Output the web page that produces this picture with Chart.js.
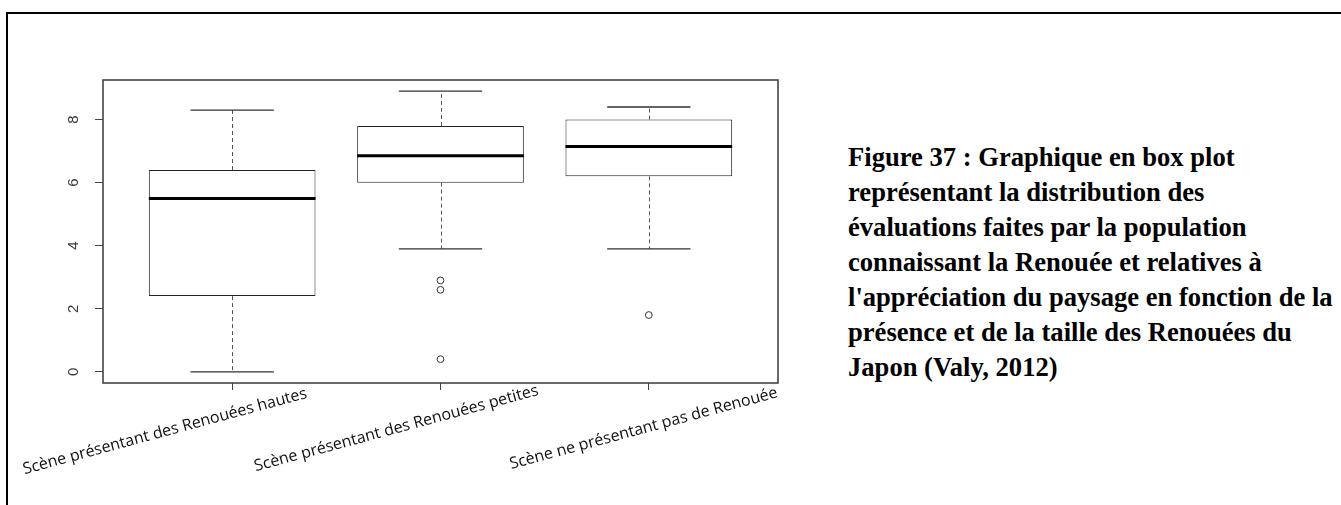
<!DOCTYPE html>
<html lang="fr">
<head>
<meta charset="utf-8">
<title>Figure 37</title>
<script src="https://cdn.jsdelivr.net/npm/chart.js@4/dist/chart.umd.min.js"></script>
<style>
  html, body { margin: 0; padding: 0; background: #fff; }
  body { width: 1341px; height: 505px; position: relative; overflow: hidden; }
  #rule-top { position: absolute; left: 6px; top: 12px; width: 1335px; height: 2px; background: #000; }
  #rule-left { position: absolute; left: 6px; top: 12px; width: 2px; height: 493px; background: #000; }
  #plot { position: absolute; left: 0; top: 0; }
  #caption {
    position: absolute; left: 848px; top: 140px; width: 490px;
    font-family: "Liberation Serif", "Times New Roman", serif;
    font-weight: bold; font-size: 26.6px; line-height: 35px; color: #000;
    white-space: nowrap;
  }
</style>
</head>
<body>
<div id="rule-top"></div>
<div id="rule-left"></div>
<canvas id="plot" width="800" height="505"></canvas>
<div id="caption">
  Figure 37 : Graphique en box plot<br>
  représentant la distribution des<br>
  évaluations faites par la population<br>
  connaissant la Renouée et relatives à<br>
  l'appréciation du paysage en fonction de la<br>
  présence et de la taille des Renouées du<br>
  Japon (Valy, 2012)
</div>
<script>
// scores given for each scene (0-10 scale)
const categories = [
  'Scène présentant des Renouées hautes',
  'Scène présentant des Renouées petites',
  'Scène ne présentant pas de Renouée'
];
const whiskerLow = [0, 3.9, 3.9];
const q1 = [2.4, 6.0, 6.2];
const median = [5.5, 6.85, 7.15];
const q3 = [6.4, 7.8, 8.0];
const whiskerHigh = [8.3, 8.9, 8.4];
const outliers = [[], [2.9, 2.6, 0.4], [1.8]];
const yTicks = [0, 2, 4, 6, 8];

// box positions on the x axis (1, 2, 3 like R's boxplot)
const positions = categories.map((c, i) => i + 1);

// R-style axis range: data range padded by 4 %
const allValues = [...whiskerLow, ...whiskerHigh, ...outliers.flat()];
const lo = Math.min(...allValues);
const hi = Math.max(...allValues);
const yPad = (hi - lo) * 0.04;
const xPad = (positions.length) * 0.04;

const outlierPoints = [];
outliers.forEach((vals, i) => vals.forEach(v => outlierPoints.push({ x: positions[i], y: v })));

// hand-placed offsets of the slanted category labels (relative to the tick)
const labelDx = [-66, -43, -4];
const labelDy = [53, 50, 50];

const boxPlotPlugin = {
  id: 'boxPlot',
  afterDatasetsDraw(chart) {
    const { ctx, chartArea, scales: { x, y } } = chart;
    ctx.save();

    // whiskers (dashed) and caps
    positions.forEach((p, i) => {
      const cx = Math.round(x.getPixelForValue(p)) + 0.5;
      const capL = x.getPixelForValue(p - 0.2);
      const capR = x.getPixelForValue(p + 0.2);
      ctx.strokeStyle = '#555';
      ctx.lineWidth = 1;
      ctx.setLineDash([4, 3]);
      ctx.beginPath();
      ctx.moveTo(cx, y.getPixelForValue(q3[i]));
      ctx.lineTo(cx, y.getPixelForValue(whiskerHigh[i]));
      ctx.moveTo(cx, y.getPixelForValue(q1[i]));
      ctx.lineTo(cx, y.getPixelForValue(whiskerLow[i]));
      ctx.stroke();
      ctx.setLineDash([]);
      ctx.strokeStyle = '#333';
      ctx.lineWidth = 1.3;
      ctx.beginPath();
      ctx.moveTo(capL, y.getPixelForValue(whiskerHigh[i]));
      ctx.lineTo(capR, y.getPixelForValue(whiskerHigh[i]));
      ctx.moveTo(capL, y.getPixelForValue(whiskerLow[i]));
      ctx.lineTo(capR, y.getPixelForValue(whiskerLow[i]));
      ctx.stroke();

      // median
      ctx.strokeStyle = '#000';
      ctx.lineWidth = 3;
      ctx.beginPath();
      ctx.moveTo(x.getPixelForValue(p - 0.4), y.getPixelForValue(median[i]));
      ctx.lineTo(x.getPixelForValue(p + 0.4), y.getPixelForValue(median[i]));
      ctx.stroke();
    });

    // frame around the plotting region
    ctx.strokeStyle = '#444';
    ctx.lineWidth = 1.6;
    ctx.strokeRect(chartArea.left, chartArea.top,
      chartArea.right - chartArea.left, chartArea.bottom - chartArea.top);

    // y tick labels, rotated like R's default
    ctx.fillStyle = '#3a3a3a';
    ctx.font = '15px "Liberation Sans", Arial, sans-serif';
    ctx.textAlign = 'center';
    ctx.textBaseline = 'middle';
    y.ticks.forEach(t => {
      ctx.save();
      ctx.translate(chartArea.left - 29, y.getPixelForValue(t.value));
      ctx.rotate(-Math.PI / 2);
      ctx.fillText(String(t.value), 0, 0);
      ctx.restore();
    });

    // slanted category labels
    ctx.fillStyle = '#111';
    ctx.font = '16px "Open Sans", sans-serif';
    ctx.textAlign = 'center';
    ctx.textBaseline = 'alphabetic';
    positions.forEach((p, i) => {
      ctx.save();
      ctx.translate(x.getPixelForValue(p) + labelDx[i], chartArea.bottom + labelDy[i]);
      ctx.rotate(-15.1 * Math.PI / 180);
      ctx.fillText(categories[i], 0, 0);
      ctx.restore();
    });

    ctx.restore();
  }
};

new Chart(document.getElementById('plot'), {
  type: 'bar',
  data: {
    datasets: [
      {
        label: 'Q1-Q3',
        data: positions.map((p, i) => ({ x: p, y: [q1[i], q3[i]] })),
        backgroundColor: '#fff',
        borderColor: '#222',
        borderWidth: 1,
        borderSkipped: false,
        barPercentage: 0.8,
        categoryPercentage: 1.0
      },
      {
        type: 'scatter',
        label: 'outliers',
        data: outlierPoints,
        pointStyle: 'circle',
        pointRadius: 3.4,
        pointBorderWidth: 1,
        pointBorderColor: '#333',
        pointBackgroundColor: '#fff'
      }
    ]
  },
  options: {
    responsive: false,
    animation: false,
    events: [],
    layout: { padding: { top: 80, right: 22, left: 0, bottom: 0 } },
    plugins: { legend: { display: false }, tooltip: { enabled: false } },
    scales: {
      x: {
        type: 'linear',
        offset: false,
        min: 1 - 0.5 - xPad,
        max: positions.length + 0.5 + xPad,
        afterBuildTicks: s => { s.ticks = positions.map(v => ({ value: v })); },
        afterFit: s => { s.height = 122; },
        ticks: { display: false },
        border: { display: false },
        grid: { offset: false, drawOnChartArea: false, drawTicks: true, tickLength: 7, color: '#444', lineWidth: 1 }
      },
      y: {
        type: 'linear',
        min: lo - yPad,
        max: hi + yPad,
        afterBuildTicks: s => { s.ticks = yTicks.map(v => ({ value: v })); },
        afterFit: s => { s.width = 103; },
        ticks: { display: false },
        border: { display: false },
        grid: { drawOnChartArea: false, drawTicks: true, tickLength: 8, color: '#444', lineWidth: 1 }
      }
    }
  },
  plugins: [boxPlotPlugin]
});
</script>
</body>
</html>
